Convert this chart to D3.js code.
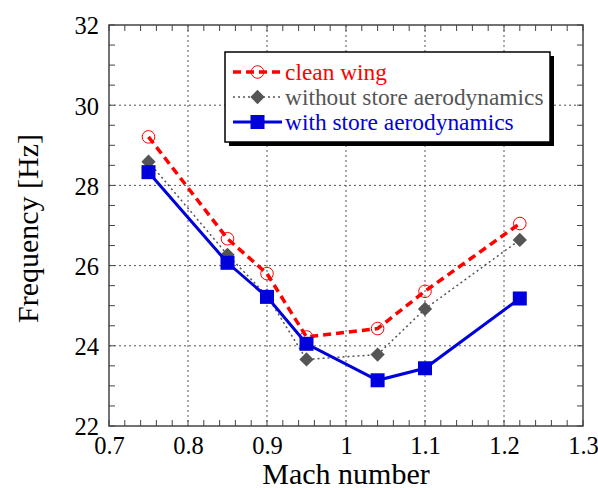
<!DOCTYPE html>
<html>
<head>
<meta charset="utf-8">
<script src="https://cdn.jsdelivr.net/npm/d3@7"></script>
<style>
  body { margin: 0; background: #fff; }
  svg text { font-family: "Liberation Serif", "Times New Roman", serif; }
</style>
</head>
<body>
<div id="chart"></div>
<script>
// Data
const mach = [0.75, 0.85, 0.9, 0.95, 1.04, 1.1, 1.22];
const cleanWing = [29.21, 26.67, 25.8, 24.22, 24.43, 25.36, 27.05];
const withoutStore = [28.59, 26.27, 25.25, 23.66, 23.78, 24.92, 26.64];
const withStore = [28.33, 26.07, 25.22, 24.05, 23.14, 23.44, 25.18];

const xTicks = [0.7, 0.8, 0.9, 1, 1.1, 1.2, 1.3];
const yTicks = [22, 24, 26, 28, 30, 32];
const legendLabels = ['clean wing', 'without store aerodynamics', 'with store aerodynamics'];

const width = 598;
const height = 490;
const margin = { top: 25, right: 15, bottom: 64, left: 109 };

const svg = d3.select('#chart')
    .append('svg')
    .attr('width', width)
    .attr('height', height);

const x = d3.scaleLinear().domain([0.7, 1.3]).range([margin.left, width - margin.right]);
const y = d3.scaleLinear().domain([22, 32]).range([height - margin.bottom, margin.top]);

const x0 = x.range()[0], x1 = x.range()[1];
const y0 = y.range()[0], y1 = y.range()[1];

// Grid lines
const grid = svg.append('g').attr('stroke', '#555').attr('stroke-width', 1).attr('stroke-dasharray', '2,3');
grid.selectAll('line.gx')
    .data(xTicks.slice(1, -1))
    .join('line')
    .attr('x1', d => x(d)).attr('x2', d => x(d))
    .attr('y1', y1).attr('y2', y0);
grid.selectAll('line.gy')
    .data(yTicks.slice(1, -1))
    .join('line')
    .attr('x1', x0).attr('x2', x1)
    .attr('y1', d => y(d)).attr('y2', d => y(d));

// Minor ticks, inside on all sides
const xMinor = d3.range(0.7, 1.3001, 0.02);
const yMinor = d3.range(22, 32.001, 0.5);
const ticks = svg.append('g').attr('stroke', '#444').attr('stroke-width', 1);
xMinor.forEach(v => {
    ticks.append('line').attr('x1', x(v)).attr('x2', x(v)).attr('y1', y0).attr('y2', y0 - 6);
    ticks.append('line').attr('x1', x(v)).attr('x2', x(v)).attr('y1', y1).attr('y2', y1 + 6);
});
yMinor.forEach(v => {
    ticks.append('line').attr('y1', y(v)).attr('y2', y(v)).attr('x1', x0).attr('x2', x0 + 6);
    ticks.append('line').attr('y1', y(v)).attr('y2', y(v)).attr('x1', x1).attr('x2', x1 - 6);
});

// Frame
svg.append('rect')
    .attr('x', x0).attr('y', y1)
    .attr('width', x1 - x0).attr('height', y0 - y1)
    .attr('fill', 'none').attr('stroke', '#444').attr('stroke-width', 1.5);

// Axes labels via d3 axes (lines hidden)
const xAxis = svg.append('g')
    .attr('transform', `translate(0,${y0})`)
    .call(d3.axisBottom(x).tickValues(xTicks).tickSize(0).tickPadding(11).tickFormat(d3.format('')));
const yAxis = svg.append('g')
    .attr('transform', `translate(${x0},0)`)
    .call(d3.axisLeft(y).tickValues(yTicks).tickSize(0).tickPadding(10).tickFormat(d3.format('d')));
[xAxis, yAxis].forEach(a => {
    a.attr('font-family', null).attr('font-size', null);
    a.select('.domain').remove();
    a.selectAll('text')
        .style('font-size', '24.5px')
        .attr('fill', '#000');
});
yAxis.selectAll('text').attr('dy', '0.36em');
xAxis.selectAll('text').attr('dy', '0.71em');

// Axis titles
svg.append('text')
    .attr('x', (x0 + x1) / 2).attr('y', 484)
    .attr('text-anchor', 'middle')
    .style('font-size', '30px')
    .text('Mach number');
svg.append('text')
    .attr('transform', `translate(38,228.5) rotate(-90)`)
    .attr('text-anchor', 'middle')
    .style('font-size', '30px')
    .text('Frequency [Hz]');

// Series
const series = [
    { values: cleanWing, color: '#ff0000', width: 3.5, dash: '8,5', marker: 'circle' },
    { values: withoutStore, color: '#555555', width: 1.5, dash: '2,3', marker: 'diamond' },
    { values: withStore, color: '#0000dd', width: 3, dash: null, marker: 'square' }
];

const line = d3.line().x(d => x(d[0])).y(d => y(d[1]));

function drawMarker(g, type, color, cx, cy) {
    if (type === 'circle') {
        g.append('circle').attr('cx', cx).attr('cy', cy).attr('r', 6.3)
            .attr('fill', 'none').attr('stroke', color).attr('stroke-width', 1);
    } else if (type === 'diamond') {
        g.append('path')
            .attr('d', d3.symbol().type(d3.symbolDiamond2).size(130)())
            .attr('transform', `translate(${cx},${cy})`)
            .attr('fill', color);
    } else {
        g.append('rect').attr('x', cx - 7).attr('y', cy - 7).attr('width', 14).attr('height', 14).attr('fill', color);
    }
}

series.forEach(s => {
    const pts = mach.map((m, i) => [m, s.values[i]]);
    const g = svg.append('g');
    g.append('path')
        .datum(pts)
        .attr('d', line)
        .attr('fill', 'none')
        .attr('stroke', s.color)
        .attr('stroke-width', s.width)
        .attr('stroke-dasharray', s.dash);
    pts.forEach(p => drawMarker(g, s.marker, s.color, x(p[0]), y(p[1])));
});

// Legend
const lg = svg.append('g');
lg.append('rect').attr('x', 229).attr('y', 56).attr('width', 325).attr('height', 90).attr('fill', '#000');
lg.append('rect').attr('x', 225).attr('y', 52).attr('width', 325).attr('height', 90)
    .attr('fill', '#fff').attr('stroke', '#000').attr('stroke-width', 1.5);
const rowY = [72, 97, 122];
series.forEach((s, i) => {
    lg.append('line')
        .attr('x1', 233).attr('x2', 282)
        .attr('y1', rowY[i]).attr('y2', rowY[i])
        .attr('stroke', s.color)
        .attr('stroke-width', s.width)
        .attr('stroke-dasharray', s.dash);
    drawMarker(lg, s.marker, s.color, 257.5, rowY[i]);
    lg.append('text')
        .attr('x', 285).attr('y', rowY[i])
        .attr('dy', '0.33em')
        .style('font-size', '23.4px')
        .attr('fill', s.color)
        .text(legendLabels[i]);
});
</script>
</body>
</html>
